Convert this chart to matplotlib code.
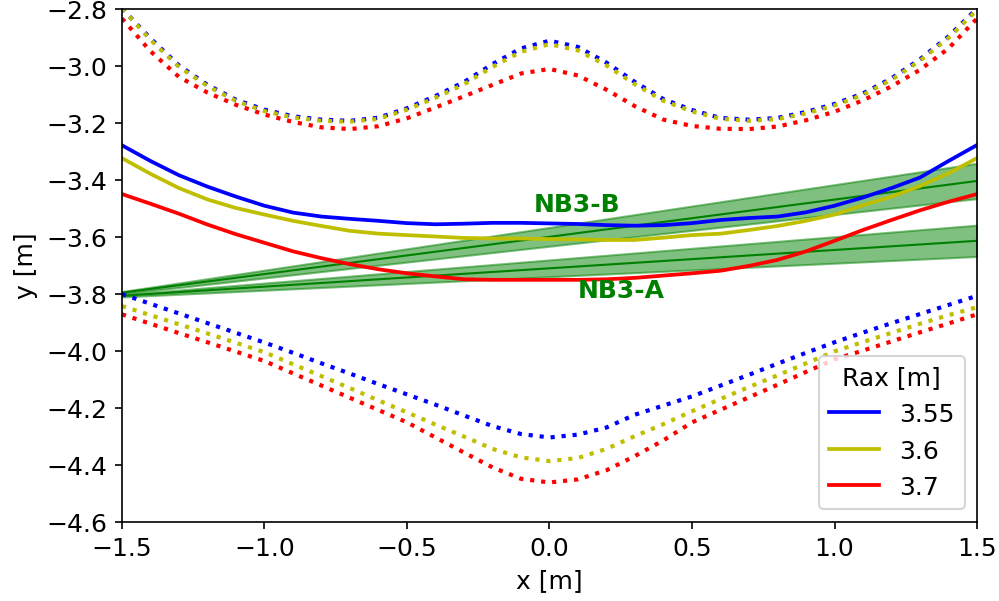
import numpy as np
import matplotlib
matplotlib.use("Agg")
import matplotlib.pyplot as plt

plt.rcParams["font.size"] = 12

# x grid shared by all flux-surface traces
x = np.round(np.arange(-1.5, 1.5001, 0.1), 2)

# vessel / last closed surface, upper and lower branches (dotted)
upper_355 = [-2.80, -2.905, -3.00, -3.068, -3.12, -3.155, -3.178, -3.19, -3.194, -3.183,
             -3.15, -3.107, -3.058, -2.995, -2.94, -2.913, -2.935, -2.99, -3.058, -3.118,
             -3.156, -3.184, -3.19, -3.184, -3.163, -3.135, -3.098, -3.045, -2.978, -2.898, -2.80]
upper_360 = [-2.80, -2.91, -3.005, -3.072, -3.124, -3.16, -3.182, -3.194, -3.197, -3.187,
             -3.155, -3.113, -3.066, -3.005, -2.952, -2.925, -2.947, -3.0, -3.066, -3.124,
             -3.161, -3.187, -3.194, -3.188, -3.168, -3.14, -3.103, -3.05, -2.983, -2.903, -2.805]
upper_370 = [-2.835, -2.95, -3.04, -3.095, -3.138, -3.172, -3.198, -3.217, -3.223, -3.213,
             -3.185, -3.147, -3.108, -3.068, -3.028, -3.012, -3.035, -3.085, -3.143, -3.19,
             -3.212, -3.222, -3.223, -3.214, -3.192, -3.162, -3.122, -3.073, -3.015, -2.94, -2.835]

lower_355 = [-3.802, -3.836, -3.87, -3.904, -3.938, -3.972, -4.008, -4.045, -4.081, -4.118,
             -4.154, -4.19, -4.228, -4.265, -4.293, -4.305, -4.295, -4.27, -4.225, -4.193,
             -4.161, -4.123, -4.085, -4.046, -4.008, -3.971, -3.937, -3.904, -3.872, -3.84, -3.808]
lower_360 = [-3.844, -3.876, -3.908, -3.94, -3.973, -4.006, -4.048, -4.09, -4.132, -4.175,
             -4.217, -4.26, -4.302, -4.345, -4.375, -4.388, -4.377, -4.345, -4.30, -4.258,
             -4.213, -4.17, -4.128, -4.087, -4.045, -4.003, -3.97, -3.938, -3.906, -3.876, -3.848]
lower_370 = [-3.873, -3.906, -3.939, -3.971, -4.004, -4.037, -4.08, -4.123, -4.166, -4.209,
             -4.252, -4.305, -4.358, -4.41, -4.45, -4.463, -4.452, -4.42, -4.37, -4.315,
             -4.252, -4.208, -4.164, -4.12, -4.075, -4.031, -4.0, -3.968, -3.936, -3.905, -3.873]

# magnetic axis trace (solid)
axis_355 = [-3.28, -3.335, -3.385, -3.425, -3.46, -3.492, -3.516, -3.53, -3.538, -3.545,
            -3.553, -3.557, -3.555, -3.552, -3.552, -3.554, -3.556, -3.56, -3.562, -3.56,
            -3.553, -3.542, -3.535, -3.53, -3.515, -3.492, -3.463, -3.43, -3.393, -3.335, -3.279]
axis_360 = [-3.325, -3.38, -3.43, -3.47, -3.50, -3.523, -3.545, -3.563, -3.58, -3.59,
            -3.595, -3.60, -3.605, -3.607, -3.607, -3.609, -3.61, -3.612, -3.612, -3.604,
            -3.595, -3.59, -3.577, -3.563, -3.545, -3.523, -3.49, -3.46, -3.423, -3.378, -3.325]
axis_370 = [-3.451, -3.485, -3.52, -3.558, -3.592, -3.622, -3.652, -3.676, -3.697, -3.715,
            -3.729, -3.74, -3.75, -3.752, -3.752, -3.752, -3.752, -3.75, -3.745, -3.737,
            -3.729, -3.72, -3.703, -3.682, -3.652, -3.615, -3.577, -3.542, -3.508, -3.478, -3.451]

rax = ["3.55", "3.6", "3.7"]
colors = ["b", "y", "r"]

# NB3 beam lines: centre line end points and half width at each end
beam_x = [-1.5, 1.5]
nb3b_y = [-3.797, -3.405]
nb3b_hw = [0.004, 0.062]
nb3a_y = [-3.808, -3.615]
nb3a_hw = [0.004, 0.055]

fig = plt.figure(figsize=(6.66, 4.0133), dpi=150)
ax = fig.add_axes([0.1221, 0.132, 0.8559, 0.8522])

for by, hw in [(nb3b_y, nb3b_hw), (nb3a_y, nb3a_hw)]:
    by = np.array(by)
    hw = np.array(hw)
    ax.fill_between(beam_x, by - hw, by + hw, color="g", alpha=0.5, lw=1)
    ax.plot(beam_x, by, color="g", lw=1)

for up, lo, mid, c, lab in zip([upper_355, upper_360, upper_370],
                               [lower_355, lower_360, lower_370],
                               [axis_355, axis_360, axis_370], colors, rax):
    ax.plot(x, up, ":", color=c, lw=2)
    ax.plot(x, lo, ":", color=c, lw=2)
    ax.plot(x, mid, "-", color=c, lw=1.8, label=lab)

ax.text(0.098, -3.486, "NB3-B", color="g", fontweight="bold",
        ha="center", va="center")
ax.text(0.25, -3.788, "NB3-A", color="g", fontweight="bold",
        ha="center", va="center")

ax.set_xlim(-1.5, 1.5)
ax.set_ylim(-4.6, -2.8)
ax.set_xticks(np.arange(-1.5, 1.51, 0.5))
ax.set_yticks(np.arange(-4.6, -2.79, 0.2))
ax.set_xlabel("x [m]")
ax.set_ylabel("y [m]")
ax.legend(title="Rax [m]", loc="lower right")

fig.savefig("out.png", dpi=150)
